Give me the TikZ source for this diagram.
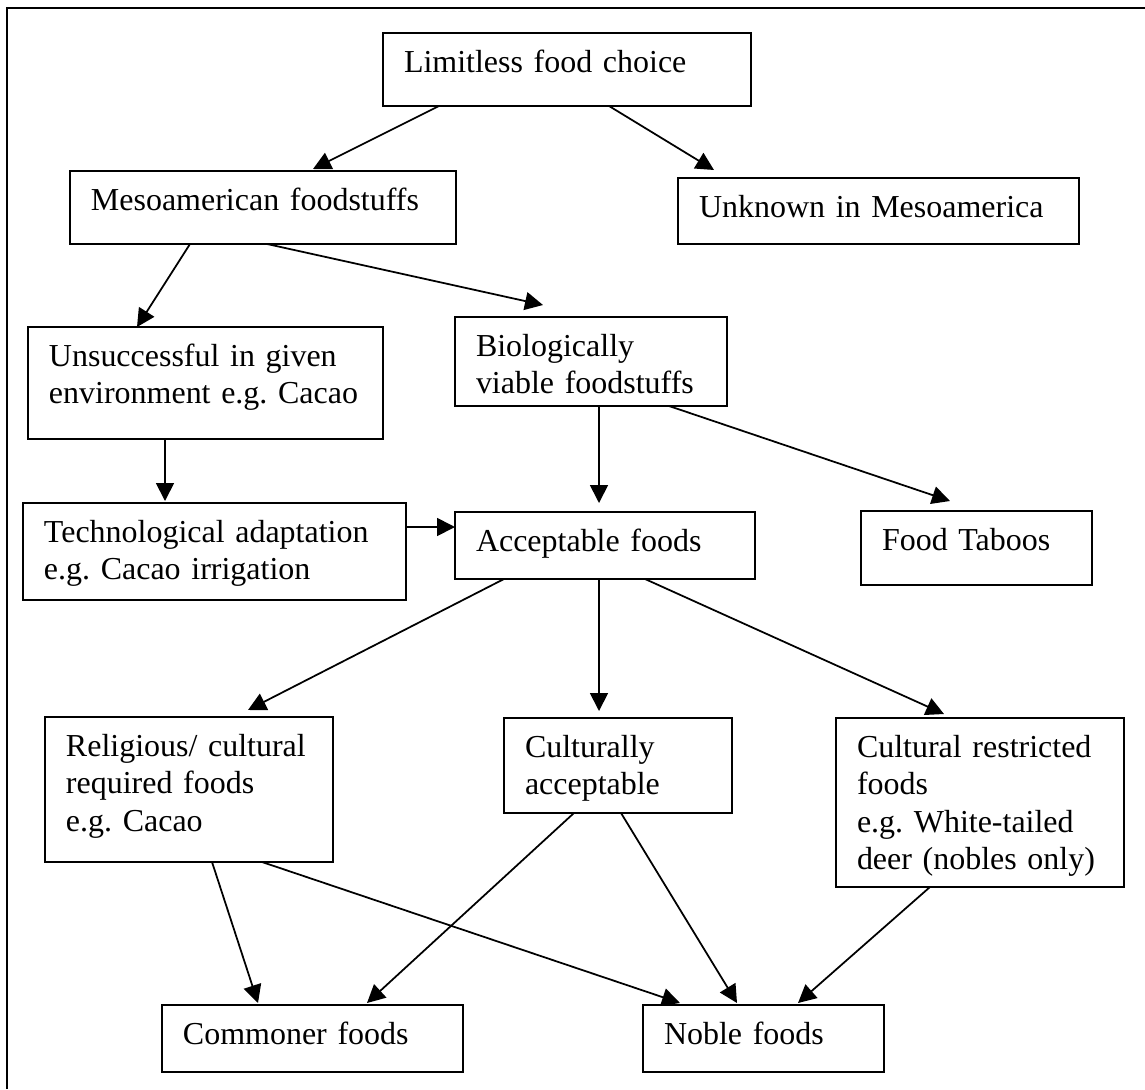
\documentclass[tikz,border=0pt]{standalone}
\usepackage{fontspec}
\setmainfont{Liberation Serif}
\usetikzlibrary{arrows.meta, calc}
\frenchspacing
\hyphenpenalty=10000
\tikzset{
    foodbox/.style 2 args={
        rectangle,
        draw=black,
        line width=1pt,
        anchor=north west,
        inner xsep=0.42cm,
        inner ysep=0pt,
        outer sep=0pt,
        text width=#1,
        text height=0.79cm,
        text depth=#2,
        align=left,
        font=\fontsize{18.2}{21.3}\selectfont
    },
    arrow/.style={
        line width=1pt,
        -{Triangle[length=0.36cm, width=0.36cm]}
    }
}

\begin{document}
\begin{tikzpicture}[x=0.02cm, y=-0.02cm]
\useasboundingbox (0,0) rectangle (1145,1089);

% Frame
\draw[line width=1pt] (7,1089) -- (7,8) -- (1145,8);

% Nodes
\node (lim) [foodbox={6.52cm}{0.67cm}] at (383,33) {Limitless food choice};
\node (meso) [foodbox={6.88cm}{0.67cm}] at (70,171) {Mesoamerican foodstuffs};
\node (unknown) [foodbox={7.18cm}{0.53cm}] at (678,178) {Unknown in Mesoamerica};
\node (unsucc) [foodbox={6.26cm}{1.45cm}] at (28,327) {Unsuccessful in given\\ environment e.g. Cacao};
\node (bio) [foodbox={4.60cm}{0.99cm}] at (455,317) {Biologically\\ viable foodstuffs};
\node (tech) [foodbox={6.82cm}{1.15cm}] at (23,503) {Technological adaptation\\ e.g. Cacao irrigation};
\node (accept) [foodbox={5.16cm}{0.55cm}] at (455,512) {Acceptable foods};
\node (taboo) [foodbox={3.78cm}{0.69cm}] at (861,511) {Food Taboos};
\node (relig) [foodbox={4.92cm}{2.11cm}] at (45,717) {Religious/ cultural\\ required foods\\ e.g. Cacao};
\node (cultacc) [foodbox={3.72cm}{1.11cm}] at (504,718) {Culturally\\ acceptable};
\node (restrict) [foodbox={4.92cm}{2.59cm}] at (836,718) {Cultural restricted\\ foods\\ e.g. White-tailed\\ deer (nobles only)};
\node (common) [foodbox={5.18cm}{0.55cm}] at (162,1005) {Commoner foods};
\node (noble) [foodbox={3.98cm}{0.55cm}] at (643,1005) {Noble foods};

% Arrows
\draw[arrow] ($(lim.south west)+(56,0)$) -- ($(meso.north west)+(243,-2)$);
\draw[arrow] ($(lim.south west)+(226,0)$) -- ($(unknown.north west)+(36,-8)$);
\draw[arrow] ($(meso.south west)+(120,0)$) -- ($(unsucc.north west)+(109,0)$);
\draw[arrow] ($(meso.south west)+(197,0)$) -- ($(bio.north west)+(88,-12)$);
\draw[arrow] ($(unsucc.south west)+(137,0)$) -- ($(tech.north west)+(142,-2)$);
\draw[arrow] ($(tech.north east)+(0,24)$) -- ($(accept.north west)+(0,15)$);
\draw[arrow] ($(bio.south west)+(144,0)$) -- ($(accept.north west)+(144,-9)$);
\draw[arrow] ($(bio.south west)+(214,0)$) -- ($(taboo.north west)+(89,-10)$);
\draw[arrow] ($(accept.south west)+(49,0)$) -- ($(relig.north west)+(203,-7)$);
\draw[arrow] ($(accept.south west)+(144,0)$) -- ($(cultacc.north west)+(95,-7)$);
\draw[arrow] ($(accept.south west)+(190,0)$) -- ($(restrict.north west)+(108,-4)$);
\draw[arrow] ($(relig.south west)+(167,0)$) -- ($(common.north west)+(96,-2)$);
\draw[arrow] ($(relig.south west)+(217,0)$) -- ($(noble.north west)+(37,-2)$);
\draw[arrow] ($(cultacc.south west)+(70,0)$) -- ($(common.north west)+(205,-2)$);
\draw[arrow] ($(cultacc.south west)+(117,0)$) -- ($(noble.north west)+(94,-2)$);
\draw[arrow] ($(restrict.south west)+(94,0)$) -- ($(noble.north west)+(155,-2)$);

\end{tikzpicture}
\end{document}
